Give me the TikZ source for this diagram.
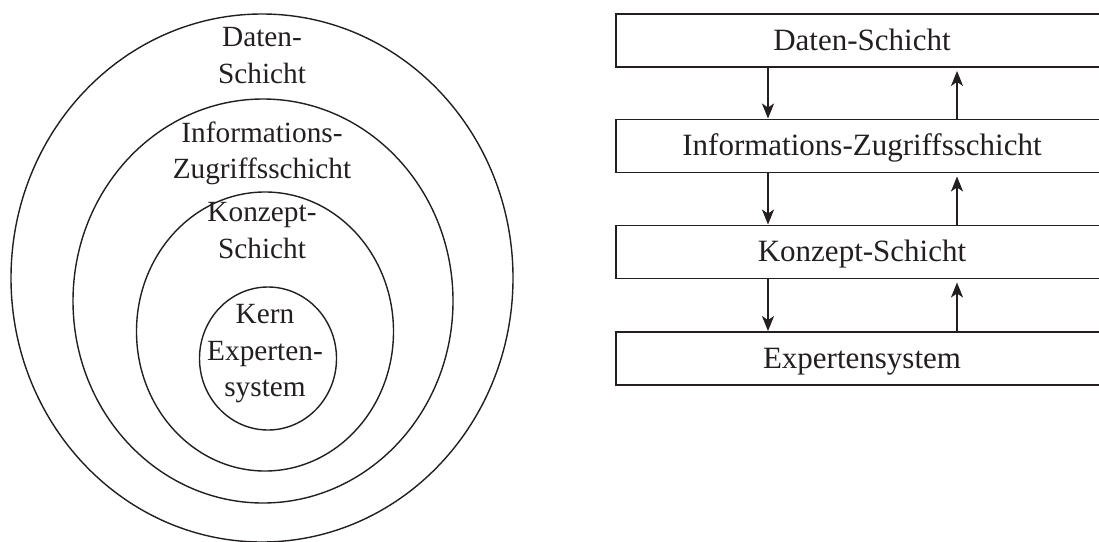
\documentclass[tikz,border=0pt]{standalone}
\usepackage{fontspec}
\setmainfont{Liberation Serif}
\usetikzlibrary{arrows.meta}
\definecolor{ink}{HTML}{231F20}
\begin{document}
\begin{tikzpicture}[x=1pt,y=-1pt,
  ring/.style={draw=ink, line width=1.4pt},
  ringlabel/.style={align=center, inner sep=0pt, text=ink,
    font=\fontsize{29.3}{36.5}\selectfont},
  layerbox/.style={draw=ink, line width=1.9pt, minimum width=492pt,
    minimum height=53pt, inner sep=0pt, text height=23.2pt,
    text depth=3.9pt, text=ink, font=\fontsize{31}{37}\selectfont},
  flow/.style={draw=ink, line width=1.9pt,
    -{Stealth[length=15pt,width=12pt,inset=4pt]}}
]
\clip (0,0) rectangle (1099,541);

% nested layers (left)
\draw[ring] (262,278) ellipse [x radius=251pt, y radius=264pt];
\draw[ring] (263,301) ellipse [x radius=190pt, y radius=202pt];
\draw[ring] (265,331.5) ellipse [x radius=128.5pt, y radius=139.5pt];
\draw[ring] (268,358.5) ellipse [x radius=68.5pt, y radius=71.5pt];

\node[ringlabel] (lDaten)   at (262,55.7)  {Daten-\\Schicht};
\node[ringlabel] (lInfo)    at (262,153.5) {Informations-\\Zugriffsschicht};
\node[ringlabel] (lKonzept) at (262,230.7) {Konzept-\\Schicht};
\node[ringlabel] (lKern)    at (265,354)   {Kern\\Experten-\\system};

% layer stack (right)
\node[layerbox] (b1) at (862,40.5)  {Daten-Schicht};
\node[layerbox] (b2) at (862,146)   {Informations-Zugriffsschicht};
\node[layerbox] (b3) at (862,252)   {Konzept-Schicht};
\node[layerbox] (b4) at (862,358.5) {Expertensystem};

\coordinate (dn) at (768,0);
\coordinate (up) at (957,0);

\draw[flow] (b1.south -| dn) -- (b2.north -| dn);
\draw[flow] (b2.south -| dn) -- (b3.north -| dn);
\draw[flow] (b3.south -| dn) -- (b4.north -| dn);

\draw[flow, shorten >=3pt] (b2.north -| up) -- (b1.south -| up);
\draw[flow, shorten >=3pt] (b3.north -| up) -- (b2.south -| up);
\draw[flow, shorten >=3pt] (b4.north -| up) -- (b3.south -| up);
\end{tikzpicture}
\end{document}
